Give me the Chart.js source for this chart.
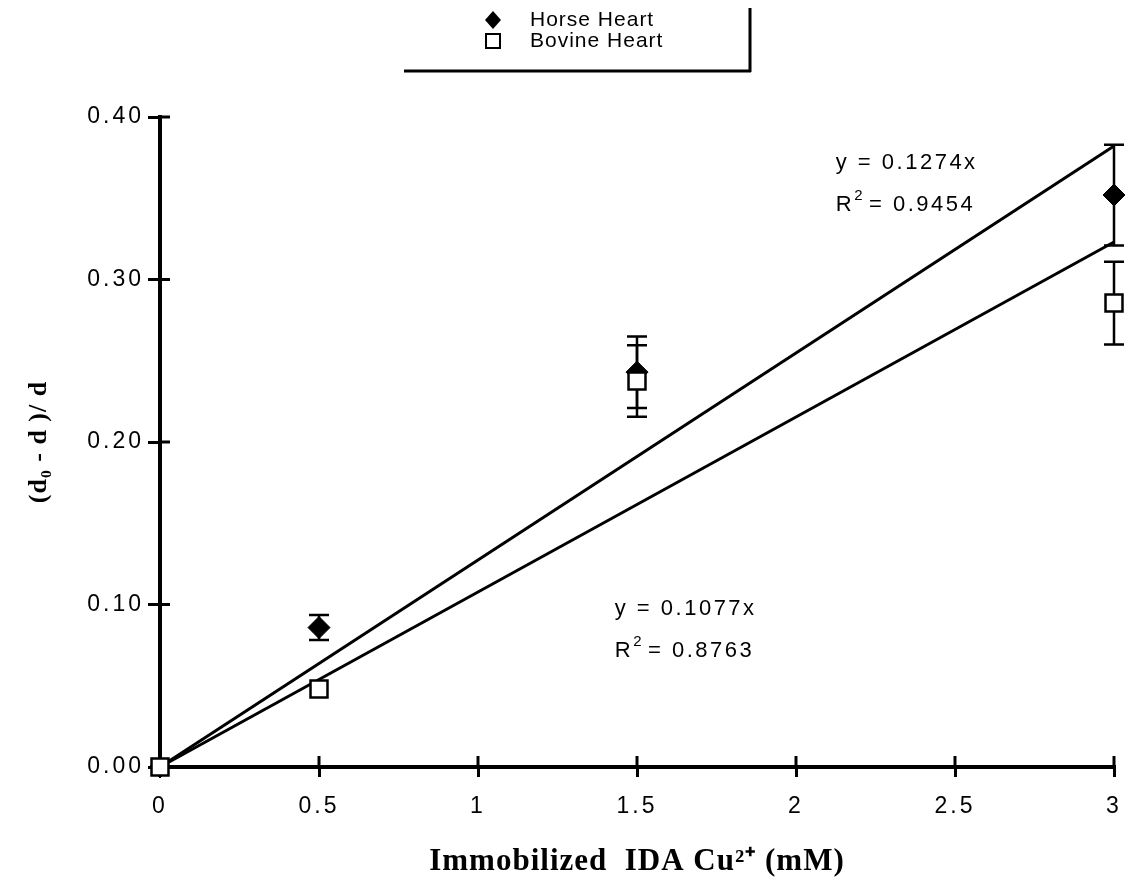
<!DOCTYPE html>
<html><head><meta charset="utf-8">
<script src="https://cdn.jsdelivr.net/npm/chart.js@4.4.1/dist/chart.umd.min.js"></script>
<style>html,body{margin:0;padding:0;background:#fff}#wrap{width:1127px;height:887px;position:relative}</style>
</head><body><div id="wrap"><canvas id="c"></canvas></div>
<script>
const xValues = [0, 0.5, 1.5, 3];
const horseY = [0, 0.0858, 0.243, 0.352];
const horseErr = [0, 0.0077, 0.022, 0.031];
const bovineY = [0, 0.048, 0.2375, 0.2855];
const bovineErr = [0, 0, 0.022, 0.0255];
const fitX = [0, 3];
const horseFitY = [0, 0.3822];
const bovineFitY = [0, 0.3231];
const xTicks = [0, 0.5, 1, 1.5, 2, 2.5, 3];
const xTickLabels = ['0', '0.5', '1', '1.5', '2', '2.5', '3'];
const yTicks = [0, 0.1, 0.2, 0.3, 0.4];
const yTickLabels = ['0.00', '0.10', '0.20', '0.30', '0.40'];
const seriesNames = ['Horse Heart', 'Bovine Heart'];
const horseFitText = ['y = 0.1274x', '0.9454'];
const bovineFitText = ['y = 0.1077x', '0.8763'];

const SANS = '"Liberation Sans", Arial, sans-serif';
const SERIF = '"Liberation Serif", "Times New Roman", serif';

const pts = (xs, ys) => xs.map((x, i) => ({x: x, y: ys[i]}));

const spacingPlugin = {
  id: 'spacing',
  beforeDraw(chart) { chart.ctx.letterSpacing = '1px'; },
  afterDatasetsDraw(chart) { chart.ctx.letterSpacing = '3px'; }
};

const innerTicks = {
  id: 'innerTicks',
  beforeDatasetsDraw(chart) {
    const ctx = chart.ctx, xs = chart.scales.x, ys = chart.scales.y, a = chart.chartArea;
    ctx.save();
    ctx.strokeStyle = '#000';
    ctx.lineWidth = 3;
    yTicks.forEach(v => {
      const py = ys.getPixelForValue(v);
      ctx.beginPath(); ctx.moveTo(a.left, py); ctx.lineTo(a.left + 10, py); ctx.stroke();
    });
    xTicks.forEach(v => {
      const px = xs.getPixelForValue(v);
      ctx.beginPath(); ctx.moveTo(px, a.bottom); ctx.lineTo(px, a.bottom - 11); ctx.stroke();
    });
    ctx.restore();
  }
};

const errorBars = {
  id: 'errorBars',
  beforeDatasetsDraw(chart) {
    const ctx = chart.ctx, xs = chart.scales.x, ys = chart.scales.y;
    ctx.save();
    ctx.strokeStyle = '#000';
    ctx.lineWidth = 2.5;
    [[horseY, horseErr], [bovineY, bovineErr]].forEach(([vals, errs]) => {
      xValues.forEach((x, i) => {
        if (!errs[i]) return;
        const px = xs.getPixelForValue(x);
        const top = ys.getPixelForValue(vals[i] + errs[i]);
        const bot = ys.getPixelForValue(vals[i] - errs[i]);
        ctx.beginPath();
        ctx.moveTo(px, top); ctx.lineTo(px, bot);
        ctx.moveTo(px - 10, top); ctx.lineTo(px + 10, top);
        ctx.moveTo(px - 10, bot); ctx.lineTo(px + 10, bot);
        ctx.stroke();
      });
    });
    ctx.restore();
  }
};

const annotationsPlugin = {
  id: 'fitText',
  afterDraw(chart) {
    const ctx = chart.ctx, xs = chart.scales.x, ys = chart.scales.y;
    ctx.save();
    ctx.letterSpacing = '2.5px';
    ctx.fillStyle = '#000';
    ctx.textBaseline = 'middle';
    ctx.textAlign = 'left';
    const draw = (lines, x, y) => {
      const px = xs.getPixelForValue(x), py = ys.getPixelForValue(y);
      ctx.font = '22px ' + SANS;
      ctx.fillText(lines[0], px, py);
      const y2 = py + 42;
      ctx.fillText('R', px, y2);
      let w = ctx.measureText('R').width;
      ctx.font = '15px ' + SANS;
      ctx.fillText('2', px + w, y2 - 9);
      w += ctx.measureText('2').width + 4;
      ctx.font = '22px ' + SANS;
      ctx.fillText('= ' + lines[1], px + w, y2);
    };
    draw(horseFitText, 2.125, 0.372);
    draw(bovineFitText, 1.43, 0.0975);
    ctx.restore();
  }
};

const legendPlugin = {
  id: 'customLegend',
  afterDraw(chart) {
    const ctx = chart.ctx;
    ctx.save();
    ctx.strokeStyle = '#000';
    ctx.fillStyle = '#000';
    ctx.lineWidth = 3;
    ctx.beginPath();
    ctx.moveTo(750, 8); ctx.lineTo(750, 72);
    ctx.moveTo(404, 71); ctx.lineTo(751, 71);
    ctx.stroke();
    ctx.beginPath();
    ctx.moveTo(493, 11); ctx.lineTo(501, 20); ctx.lineTo(493, 29); ctx.lineTo(485, 20); ctx.closePath();
    ctx.fill();
    ctx.lineWidth = 2;
    ctx.strokeRect(486, 34, 14, 14);
    ctx.letterSpacing = '1px';
    ctx.font = '21px ' + SANS;
    ctx.textBaseline = 'middle';
    ctx.fillText(seriesNames[0], 530, 20);
    ctx.fillText(seriesNames[1], 530, 41);
    ctx.restore();
  }
};

new Chart(document.getElementById('c'), {
  type: 'scatter',
  data: {
    datasets: [
      {label: seriesNames[0], data: pts(xValues, horseY), pointStyle: 'rectRot', pointRadius: 11,
       backgroundColor: '#000', borderColor: '#000', borderWidth: 1, order: 1, clip: false},
      {label: seriesNames[1], data: pts(xValues, bovineY), pointStyle: 'rect', pointRadius: 12,
       backgroundColor: '#fff', borderColor: '#000', borderWidth: 2.5, order: 0, clip: false},
      {label: 'Horse fit', data: pts(fitX, horseFitY), showLine: true, pointRadius: 0,
       borderColor: '#000', borderWidth: 3, order: 2, clip: false},
      {label: 'Bovine fit', data: pts(fitX, bovineFitY), showLine: true, pointRadius: 0,
       borderColor: '#000', borderWidth: 3, order: 2, clip: false}
    ]
  },
  options: {
    responsive: true,
    maintainAspectRatio: false,
    animation: false,
    layout: {padding: {top: 117, right: 13, left: 0, bottom: 0}, autoPadding: false},
    plugins: {legend: {display: false}, tooltip: {enabled: false}},
    scales: {
      x: {
        type: 'linear', min: 0, max: 3,
        afterBuildTicks: s => { s.ticks = xTicks.map(v => ({value: v})); },
        afterFit: s => { s.height = 120; s.paddingLeft = 0; s.paddingRight = 0; },
        ticks: {
          callback: v => { const i = xTicks.indexOf(v); return i >= 0 ? xTickLabels[i] : ''; },
          color: '#000', font: {family: SANS, size: 23}, padding: 16, maxRotation: 0, autoSkip: false, z: 1
        },
        grid: {drawOnChartArea: false, drawTicks: true, tickLength: 10, color: '#000', lineWidth: 3},
        border: {display: true, color: '#000', width: 4},
        title: {display: true, text: 'Immobilized  IDA Cu²⁺ (mM)', color: '#000',
          font: {family: SERIF, size: 31, weight: 'bold'}, padding: {top: 0, bottom: 6}}
      },
      y: {
        type: 'linear', min: 0, max: 0.4,
        afterBuildTicks: s => { s.ticks = yTicks.map(v => ({value: v})); },
        afterFit: s => { s.width = 160; s.paddingTop = 0; s.paddingBottom = 0; },
        ticks: {
          callback: v => { const i = yTicks.findIndex(t => Math.abs(t - v) < 1e-9); return i >= 0 ? yTickLabels[i] : ''; },
          color: '#000', font: {family: SANS, size: 23}, padding: 4, autoSkip: false, z: 1
        },
        grid: {drawOnChartArea: false, drawTicks: true, tickLength: 12, color: '#000', lineWidth: 3},
        border: {display: true, color: '#000', width: 4},
        title: {display: true, text: '(d₀ - d )/ d', color: '#000',
          font: {family: SERIF, size: 26, weight: 'bold'}, padding: {top: 24, bottom: 0}}
      }
    }
  },
  plugins: [spacingPlugin, innerTicks, errorBars, annotationsPlugin, legendPlugin]
});
</script></body></html>
